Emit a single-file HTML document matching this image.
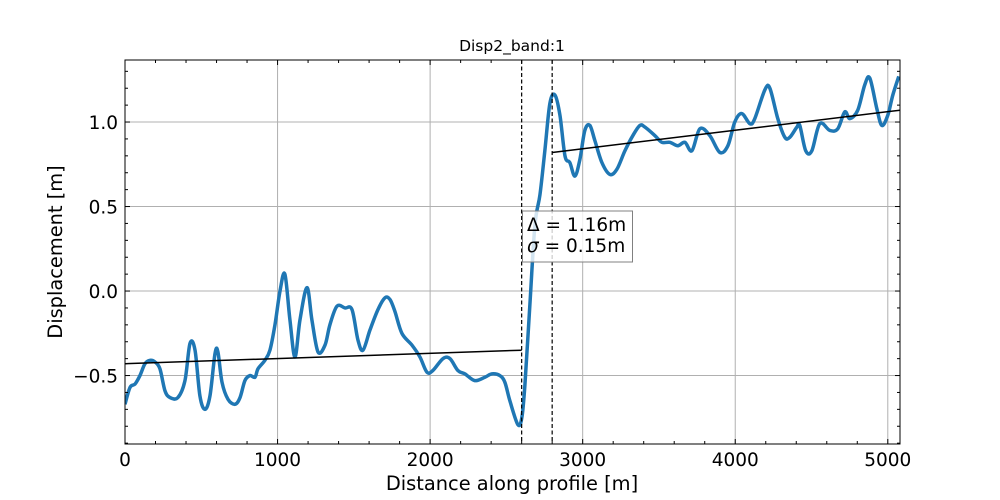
<!DOCTYPE html>
<html><head><meta charset="utf-8"><style>body{margin:0;background:#fff}svg{display:block;font-family:"DejaVu Sans","Liberation Sans",sans-serif}</style></head>
<body>
<svg id="chart" width="1000" height="500" viewBox="0 0 1000 500" style="position:absolute;left:0;top:0"></svg>
<script>
const xs=[0,33,66,98,131,164,197,229,262,295,347,393,426,459,491,524,557,590,609,636,675,721,754,786,819,852,872,917,950,983,1016,1048,1081,1114,1147,1193,1225,1265,1311,1343,1389,1442,1488,1527,1560,1606,1658,1704,1737,1769,1815,1881,1933,1979,2018,2084,2130,2182,2228,2293,2359,2405,2457,2490,2523,2575,2601,2621,2654,2687,2720,2752,2785,2818,2851,2884,2916,2949,2982,3014,3047,3080,3126,3178,3224,3277,3329,3375,3408,3473,3519,3571,3624,3670,3716,3768,3833,3899,3952,3997,4043,4096,4128,4194,4227,4279,4325,4358,4404,4423,4462,4502,4554,4620,4672,4718,4751,4803,4849,4882,4928,4961,5000,5033,5072];
const ys=[-0.67,-0.57,-0.55,-0.50,-0.43,-0.41,-0.42,-0.46,-0.59,-0.63,-0.63,-0.53,-0.31,-0.35,-0.62,-0.70,-0.62,-0.37,-0.36,-0.54,-0.64,-0.67,-0.63,-0.53,-0.50,-0.51,-0.46,-0.41,-0.35,-0.20,0.0,0.10,-0.17,-0.39,-0.17,0.02,-0.17,-0.36,-0.32,-0.20,-0.09,-0.10,-0.11,-0.29,-0.35,-0.23,-0.11,-0.04,-0.05,-0.12,-0.25,-0.32,-0.39,-0.48,-0.47,-0.40,-0.40,-0.47,-0.49,-0.53,-0.51,-0.49,-0.50,-0.54,-0.65,-0.79,-0.75,-0.56,-0.08,0.39,0.57,0.83,1.11,1.16,1.04,0.80,0.76,0.68,0.78,0.95,0.98,0.89,0.76,0.69,0.72,0.83,0.92,0.98,0.97,0.92,0.88,0.88,0.86,0.88,0.83,0.96,0.92,0.82,0.86,1.00,1.05,0.99,1.02,1.19,1.20,1.02,0.91,0.91,0.97,0.98,0.83,0.83,0.99,0.95,0.96,1.06,1.02,1.07,1.22,1.26,1.08,0.98,1.04,1.16,1.27];
const fitLeft=[[0,-0.43],[2600,-0.35]];
const fitRight=[[2800,0.82],[5080,1.07]];
const breaks=[2600,2800];
const xTicks=[0,1000,2000,3000,4000,5000];
const yTicks=[-0.5,0.0,0.5,1.0];
const yTickLabels=["\u22120.5","0.0","0.5","1.0"];
const L=125,R=900,T=60,B=444,X0=0,X1=5080,Y0=-0.905,Y1=1.367;
const sx=v=>L+(v-X0)/(X1-X0)*(R-L), sy=v=>B-(v-Y0)/(Y1-Y0)*(B-T);
const svg=document.getElementById('chart');const NS='http://www.w3.org/2000/svg';
function mk(t,a,p){const e=document.createElementNS(NS,t);for(const k in a)e.setAttribute(k,a[k]);(p||svg).appendChild(e);return e;}
xTicks.forEach(v=>{const e=mk('line',{x1:sx(v),x2:sx(v),y1:T,y2:B,stroke:'#b0b0b0','stroke-width':1});

});
yTicks.forEach(v=>{const e=mk('line',{x1:L,x2:R,y1:sy(v),y2:sy(v),stroke:'#b0b0b0','stroke-width':1});

});
const cl=mk('clipPath',{id:'c'});mk('rect',{x:L,y:T,width:R-L,height:B-T},cl);
const g=mk('g',{'clip-path':'url(#c)'});
const P=xs.map((x,i)=>[sx(x),sy(ys[i])]);
let d='M'+P[0][0]+','+P[0][1];
for(let i=0;i<P.length-1;i++){const p0=P[Math.max(0,i-1)],p1=P[i],p2=P[i+1],p3=P[Math.min(P.length-1,i+2)];
d+=' C'+(p1[0]+(p2[0]-p0[0])/6)+','+(p1[1]+(p2[1]-p0[1])/6)+' '+(p2[0]-(p3[0]-p1[0])/6)+','+(p2[1]-(p3[1]-p1[1])/6)+' '+p2[0]+','+p2[1];}
const line=mk('path',{d:d,fill:'none',stroke:'#1f77b4','stroke-width':3.5,'stroke-linejoin':'round'},g);


[fitLeft,fitRight].forEach(f=>{const e=mk('line',{x1:sx(f[0][0]),y1:sy(f[0][1]),x2:sx(f[1][0]),y2:sy(f[1][1]),stroke:'#000','stroke-width':1.5},g);

});
breaks.forEach(b=>{const e=mk('line',{x1:sx(b),x2:sx(b),y1:T,y2:B,stroke:'#000','stroke-width':1.2,'stroke-dasharray':'4,2.5'});

});
function tick(x1,y1,x2,y2){mk('line',{x1,y1,x2,y2,stroke:'#000','stroke-width':1});}
for(let v=0;v<=X1;v+=200){const big=v%1000===0,l=big?5:3;tick(sx(v),B,sx(v),B-l);tick(sx(v),T,sx(v),T+l);}
for(let k=-9;k<=13;k++){const v=k/10,big=k%5===0,l=big?5:3;tick(L,sy(v),L+l,sy(v));tick(R,sy(v),R-l,sy(v));}
xTicks.forEach(v=>{const t=mk('text',{x:sx(v),y:B+22,'text-anchor':'middle','font-size':18.5});t.textContent=v;

});
yTicks.forEach((v,i)=>{const t=mk('text',{x:L-7,y:sy(v)+7,'text-anchor':'end','font-size':18.5});t.textContent=yTickLabels[i];

});
mk('rect',{x:L,y:T,width:R-L,height:B-T,fill:'none',stroke:'#000','stroke-width':1});
</script>
<svg style="position:absolute;left:0;top:0;font-family:'DejaVu Sans','Liberation Sans',sans-serif" width="1000" height="500">
<text x="512" y="51" text-anchor="middle" font-size="15.5">Disp2_band:1</text>
<text x="512" y="490" text-anchor="middle" font-size="19.4">Distance along profile [m]</text>
<text transform="translate(62,252) rotate(-90)" text-anchor="middle" font-size="19.4">Displacement [m]</text>
<g>
<rect x="522.5" y="211" width="110" height="51" fill="rgba(255,255,255,0.8)" stroke="#808080" stroke-width="1"/>
<text x="527" y="231" font-size="18.5">Δ = 1.16m</text>
<text x="527" y="252" font-size="18.5"><tspan font-style="italic">σ</tspan> = 0.15m</text>
</g>
</svg>
</body></html>
